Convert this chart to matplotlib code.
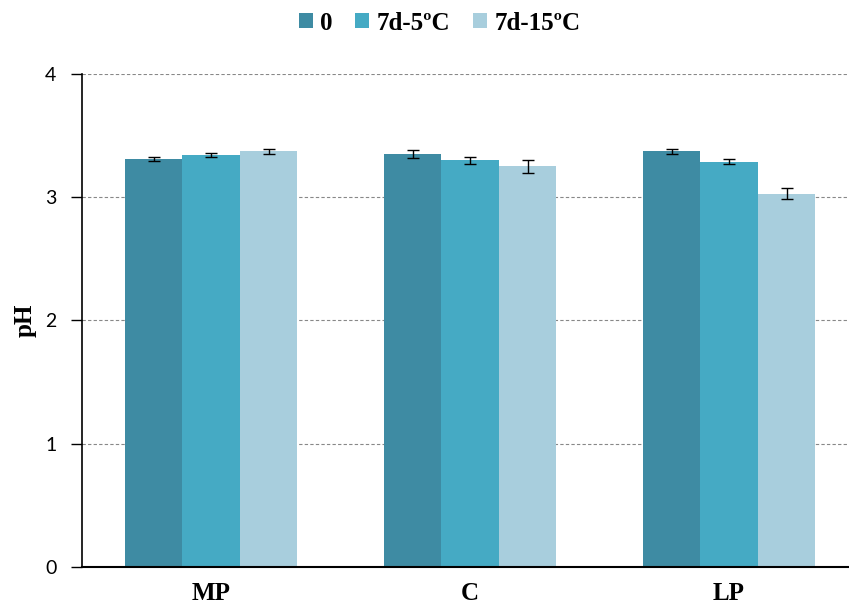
import matplotlib
matplotlib.use("Agg")
import matplotlib.pyplot as plt
import numpy as np

categories = ["MP", "C", "LP"]
series_names = ["0", "7d-5ºC", "7d-15ºC"]
values_0 = [3.31, 3.35, 3.375]
values_5 = [3.34, 3.30, 3.29]
values_15 = [3.375, 3.25, 3.03]
err_0 = [0.015, 0.033, 0.02]
err_5 = [0.016, 0.03, 0.02]
err_15 = [0.02, 0.05, 0.045]
colors = ["#3E8BA3", "#45AAC4", "#A8CEDD"]
yticks = [0, 1, 2, 3, 4]

fig = plt.figure(figsize=(8.49, 6.07), dpi=100)
ax = fig.add_axes([0.096, 0.066, 0.904, 0.812])

x = np.arange(len(categories))
width = 0.222
all_vals = [values_0, values_5, values_15]
all_errs = [err_0, err_5, err_15]
handles = []
for i, (vals, errs, c, name) in enumerate(zip(all_vals, all_errs, colors, series_names)):
    pos = x + (i - 1) * width
    b = ax.bar(pos, vals, width=width, color=c, label=name, zorder=2)
    ax.errorbar(pos, vals, yerr=errs, fmt="none", ecolor="black",
                elinewidth=1.0, capsize=4, capthick=1.0, zorder=3)
    handles.append(b)

ax.set_xlim(-0.5, 2.463)
ax.set_ylim(0, 4)
ax.set_yticks(yticks)
ax.set_yticklabels([str(t) for t in yticks], fontsize=14, family="Lato")
ax.yaxis.grid(True, linestyle=(0, (3, 2)), color="#888888", linewidth=0.8, zorder=0)
ax.set_axisbelow(True)
ax.set_xticks(x)
ax.set_xticklabels(categories, fontsize=18, fontweight="bold", family="Liberation Serif")
ax.tick_params(axis="x", length=0, pad=11)
ax.tick_params(axis="y", length=8, width=1, color="black", pad=10)
for s in ["top", "right"]:
    ax.spines[s].set_visible(False)
ax.spines["left"].set_color("black")
ax.spines["bottom"].set_color("black")
ax.spines["left"].set_linewidth(1.2)
ax.spines["bottom"].set_linewidth(1.5)

ax.set_ylabel("pH", fontsize=18, fontweight="bold", family="Liberation Serif", labelpad=6)

fig.legend(handles=handles, labels=series_names, loc="center", bbox_to_anchor=(0.518, 0.962),
           ncol=3, frameon=False, handlelength=0.56, handleheight=0.56, handletextpad=0.3,
           columnspacing=0.9, prop={"family": "Liberation Serif", "weight": "bold", "size": 18})

fig.savefig("out.png", dpi=100)
